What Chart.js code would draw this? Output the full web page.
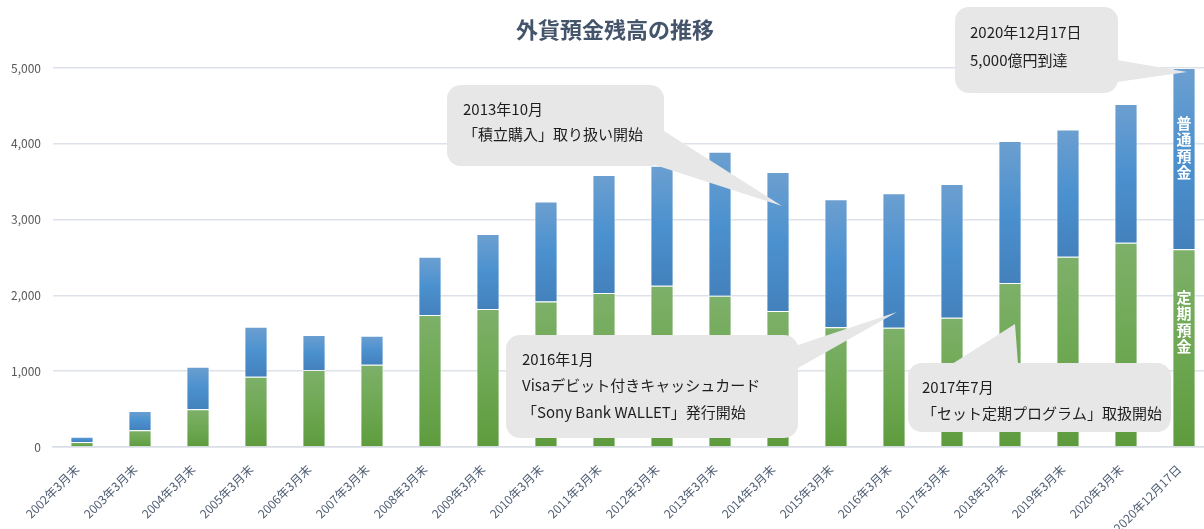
<!DOCTYPE html>
<html lang="ja">
  <head>
    <meta charset="UTF-8" />
    <title>外貨預金残高の推移</title>
    <style>
      html, body { margin: 0; padding: 0; background: #fff; overflow: hidden; }
      .chart-view { width: 1214px; height: 529px; }
    </style>
  </head>
  <body>
    <div class="chart-view">
      <canvas id="chart" width="1214" height="529"></canvas>
    </div>

    <script src="https://cdn.jsdelivr.net/npm/chart.js@4.4.1/dist/chart.umd.min.js"></script>
    <script>
      //data
      const labels = [
        '2002年3月末', '2003年3月末', '2004年3月末', '2005年3月末', '2006年3月末',
        '2007年3月末', '2008年3月末', '2009年3月末', '2010年3月末', '2011年3月末',
        '2012年3月末', '2013年3月末', '2014年3月末', '2015年3月末', '2016年3月末',
        '2017年3月末', '2018年3月末', '2019年3月末', '2020年3月末', '2020年12月17日'
      ];
      // 定期預金 (億円)
      const teiki = [66, 220, 497, 927, 1016, 1086, 1741, 1820, 1921, 2031, 2128, 1996, 1794, 1579, 1574, 1706, 2163, 2510, 2695, 2608];
      // 普通預金 (億円)
      const futsu = [70, 255, 562, 660, 461, 382, 769, 989, 1319, 1557, 1583, 1899, 1833, 1688, 1772, 1763, 1873, 1680, 1829, 2392];
      const yTicks = [0, 1000, 2000, 3000, 4000, 5000];

      const FONT = "'Noto Sans CJK JP', 'Noto Sans', sans-serif";

      // callouts: text lines + box/tail in pixels
      const callouts = [
        { lines: ['2013年10月', '「積立購入」取り扱い開始'], box: [447, 85, 217, 81], tail: [[664, 131], [782, 206], [655, 165]], tx: 463, ty: 109, lh: 25 },
        { lines: ['2016年1月', 'Visaデビット付きキャッシュカード', '「Sony Bank WALLET」発行開始'], box: [506, 335, 292, 103], tail: [[792, 347], [897, 312], [798, 368]], tx: 522, ty: 359, lh: 26.5 },
        { lines: ['2017年7月', '「セット定期プログラム」取扱開始'], box: [908, 363, 263, 69], tail: [[952, 364], [1015, 324], [1018, 364]], tx: 922, ty: 387, lh: 26 },
        { lines: ['2020年12月17日', '5,000億円到達'], box: [955, 7, 163, 86], tail: [[1117, 60], [1187, 72], [1117, 82]], tx: 970, ty: 32, lh: 28 }
      ];

      function segGradient(context, stops) {
        const chart = context.chart;
        const area = chart.chartArea;
        if (!area) return stops[0];
        const i = context.dataIndex;
        const y = chart.scales.y;
        let lo = 0, hi = teiki[i];
        if (context.datasetIndex === 1) { lo = teiki[i]; hi = teiki[i] + futsu[i]; }
        const top = y.getPixelForValue(hi);
        const bot = y.getPixelForValue(lo);
        if (!isFinite(top) || !isFinite(bot) || bot - top < 1) return stops[0];
        const g = chart.ctx.createLinearGradient(0, top, 0, bot);
        stops.forEach((c, k) => g.addColorStop(k / (stops.length - 1), c));
        return g;
      }

      function roundRect(ctx, x, y, w, h, r) {
        ctx.moveTo(x + r, y);
        ctx.arcTo(x + w, y, x + w, y + h, r);
        ctx.arcTo(x + w, y + h, x, y + h, r);
        ctx.arcTo(x, y + h, x, y, r);
        ctx.arcTo(x, y, x + w, y, r);
        ctx.closePath();
      }

      const overlay = {
        id: 'overlay',
        afterDraw(chart) {
          const ctx = chart.ctx;
          ctx.save();

          // title
          ctx.fillStyle = '#44546a';
          ctx.font = 'bold 22px ' + FONT;
          ctx.textAlign = 'center';
          ctx.textBaseline = 'middle';
          ctx.fillText('外貨預金残高の推移', 615, 30);

          // vertical series names on the last bar
          const meta0 = chart.getDatasetMeta(0).data;
          const last = meta0[meta0.length - 1];
          ctx.fillStyle = '#ffffff';
          ctx.font = 'bold 15px ' + FONT;
          const drawVert = (txt, y0) => {
            [...txt].forEach((ch, k) => ctx.fillText(ch, last.x, y0 + k * 16.5));
          };
          drawVert(chart.data.datasets[1].label, 123);
          drawVert(chart.data.datasets[0].label, 297);

          // callouts
          ctx.textAlign = 'left';
          ctx.font = '15px ' + FONT;
          callouts.forEach(c => {
            ctx.fillStyle = '#e7e7e7';
            ctx.beginPath();
            roundRect(ctx, c.box[0], c.box[1], c.box[2], c.box[3], 14);
            ctx.fill();
            ctx.beginPath();
            ctx.moveTo(c.tail[0][0], c.tail[0][1]);
            ctx.lineTo(c.tail[1][0], c.tail[1][1]);
            ctx.lineTo(c.tail[2][0], c.tail[2][1]);
            ctx.closePath();
            ctx.fill();
            ctx.fillStyle = '#1e1e1e';
            c.lines.forEach((t, k) => ctx.fillText(t, c.tx, c.ty + k * c.lh));
          });
          ctx.restore();
        }
      };

      //config
      const config = {
        type: 'bar',
        data: {
          labels: labels,
          datasets: [
            {
              label: '定期預金',
              data: teiki,
              backgroundColor: ctx => segGradient(ctx, ['#7db069', '#6ea853', '#5e9b3d']),
              borderColor: 'rgba(255,255,255,0.45)',
              borderWidth: 1
            },
            {
              label: '普通預金',
              data: futsu,
              backgroundColor: ctx => segGradient(ctx, ['#6c9fd0', '#4b91cf', '#4381bc']),
              borderColor: 'rgba(255,255,255,0.45)',
              borderWidth: 1
            }
          ]
        },
        options: {
          responsive: false,
          animation: false,
          layout: { padding: { top: 68, left: 0, right: 1, bottom: 0 } },
          datasets: { bar: { barPercentage: 0.4, categoryPercentage: 1 } },
          plugins: {
            legend: { display: false },
            title: { display: false },
            tooltip: { enabled: false }
          },
          scales: {
            x: {
              stacked: true,
              grid: { display: false, drawTicks: false },
              border: { display: true, color: '#d9dee6', width: 1.5 },
              ticks: {
                color: '#4f5d73',
                font: { family: FONT, size: 12 },
                minRotation: 45,
                maxRotation: 45,
                autoSkip: false,
                padding: 15,
                labelOffset: -5
              },
              afterFit: s => { s.height = 82; }
            },
            y: {
              stacked: true,
              min: 0,
              max: 5000,
              afterBuildTicks: s => { s.ticks = yTicks.map(v => ({ value: v })); },
              grid: { color: '#dde2ea', lineWidth: 1.5, drawTicks: false },
              border: { display: false },
              ticks: {
                color: '#595959',
                font: { family: FONT, size: 12 },
                padding: 12,
                callback: v => v.toLocaleString('en-US')
              },
              afterFit: s => { s.width = 53; }
            }
          }
        },
        plugins: [overlay]
      };

      //init
      const ctx = document.getElementById('chart');
      const chart = new Chart(ctx, config);
    </script>
  </body>
</html>
